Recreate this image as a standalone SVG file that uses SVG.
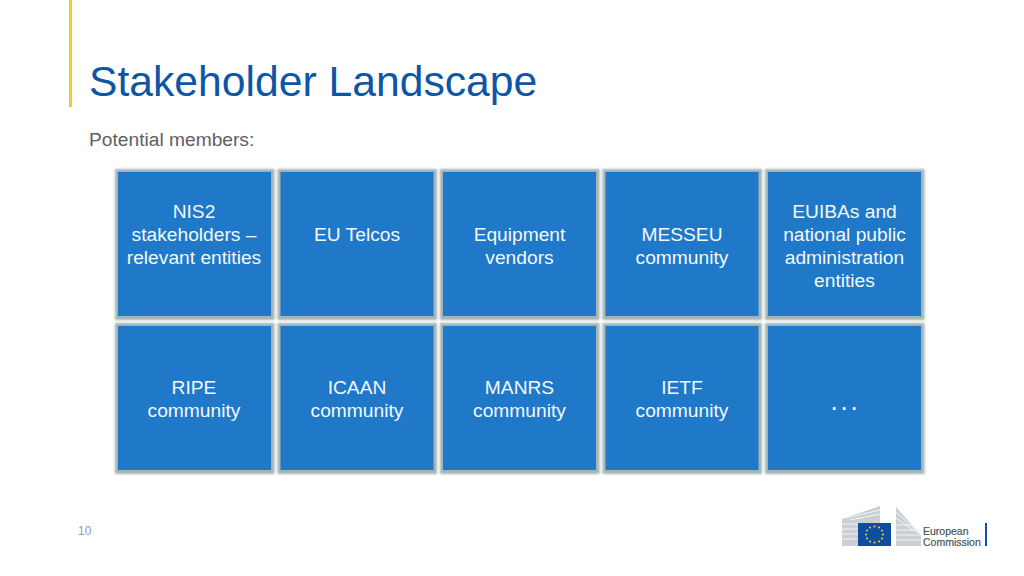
<svg xmlns="http://www.w3.org/2000/svg" width="1024" height="576" viewBox="0 0 1024 576">
<style>
.box{fill:#1f78c8}
.halo{fill:#a3b2b5;filter:url(#soft)}
.t{font-family:"Liberation Sans",Arial,sans-serif;font-size:19.200px;fill:#f4f8fc;text-anchor:middle}
.b{fill:#c9cfd2}
.l{stroke:#fff;stroke-width:.8}
</style>
<defs>
<filter id="soft" x="-10%" y="-10%" width="120%" height="120%"><feGaussianBlur stdDeviation="1.100"/></filter>
<g id="cell"><rect class="halo" x="-3" y="-3" width="159.500" height="151"/><rect class="box" x="0" y="0" width="153" height="144"/></g>
</defs>
<rect width="1024" height="576" fill="#fff"/>
<rect x="69" y="0" width="3" height="107" fill="#f5c92e"/>
<text x="89" y="96" font-family="'Liberation Sans',Arial,sans-serif" font-size="42.670px" fill="#0e55a6">Stakeholder Landscape</text>
<text x="89" y="146" font-family="'Liberation Sans',Arial,sans-serif" font-size="19.200px" fill="#606060">Potential members:</text>

<g id="node-nis2"><use href="#cell" x="118" y="172"/><text class="t" x="194" y="218">NIS2</text><text class="t" x="194" y="241">stakeholders –</text><text class="t" x="194" y="264">relevant entities</text></g>
<g id="node-telcos"><use href="#cell" x="280.500" y="172"/><text class="t" x="357" y="241">EU Telcos</text></g>
<g id="node-vendors"><use href="#cell" x="443" y="172"/><text class="t" x="519.500" y="241">Equipment</text><text class="t" x="519.500" y="264">vendors</text></g>
<g id="node-messeu"><use href="#cell" x="605.500" y="172"/><text class="t" x="682" y="241">MESSEU</text><text class="t" x="682" y="264">community</text></g>
<g id="node-euibas"><use href="#cell" x="768" y="172"/><text class="t" x="844.500" y="218">EUIBAs and</text><text class="t" x="844.500" y="241">national public</text><text class="t" x="844.500" y="264">administration</text><text class="t" x="844.500" y="287">entities</text></g>

<g id="node-ripe"><use href="#cell" x="118" y="326"/><text class="t" x="194" y="394">RIPE</text><text class="t" x="194" y="417">community</text></g>
<g id="node-icaan"><use href="#cell" x="280.500" y="326"/><text class="t" x="357" y="394">ICAAN</text><text class="t" x="357" y="417">community</text></g>
<g id="node-manrs"><use href="#cell" x="443" y="326"/><text class="t" x="519.500" y="394">MANRS</text><text class="t" x="519.500" y="417">community</text></g>
<g id="node-ietf"><use href="#cell" x="605.500" y="326"/><text class="t" x="682" y="394">IETF</text><text class="t" x="682" y="417">community</text></g>
<g id="node-more"><use href="#cell" x="768" y="326"/><text x="830.400" y="409.500" font-family="'Liberation Sans',Arial,sans-serif" font-size="26px" fill="#fff" letter-spacing="2.800">...</text></g>

<g id="connectors"></g>

<text x="78" y="535" font-family="'Liberation Sans',Arial,sans-serif" font-size="12px" fill="#9a9a9a">10</text>

<g id="logo">
<polygon class="b" points="842,519 880,506 880,523 858,523 858,546 842,546"/>
<polygon class="b" points="896,507 921,535 921,546 896,546"/>
<path class="l" d="M842,524H858M842,529H858M842,534H858M842,539H858M846,518L880,510M850,520L880,514M896,512L915,529M896,518L919,534M896,525H921M896,530H921M896,535H921M896,540H921" fill="none"/>
<rect x="858" y="523" width="33" height="23" fill="#0f4da0"/>
<g fill="#f5d72a"><circle cx="874.500" cy="526.500" r="1"/><circle cx="879" cy="527.500" r="1"/><circle cx="882" cy="530.500" r="1"/><circle cx="883" cy="534.500" r="1"/><circle cx="882" cy="538.500" r="1"/><circle cx="879" cy="541.500" r="1"/><circle cx="874.500" cy="542.500" r="1"/><circle cx="870" cy="541.500" r="1"/><circle cx="867" cy="538.500" r="1"/><circle cx="866" cy="534.500" r="1"/><circle cx="867" cy="530.500" r="1"/><circle cx="870" cy="527.500" r="1"/></g>
<text x="923" y="535" font-family="'Liberation Sans',Arial,sans-serif" font-size="10.500px" fill="#4a5356" stroke="#4a5356" stroke-width=".2">European</text>
<text x="923" y="546" font-family="'Liberation Sans',Arial,sans-serif" font-size="10.500px" fill="#4a5356" stroke="#4a5356" stroke-width=".2">Commission</text>
<rect x="985" y="523" width="2" height="23" fill="#0f4da0"/>
</g>
</svg>
